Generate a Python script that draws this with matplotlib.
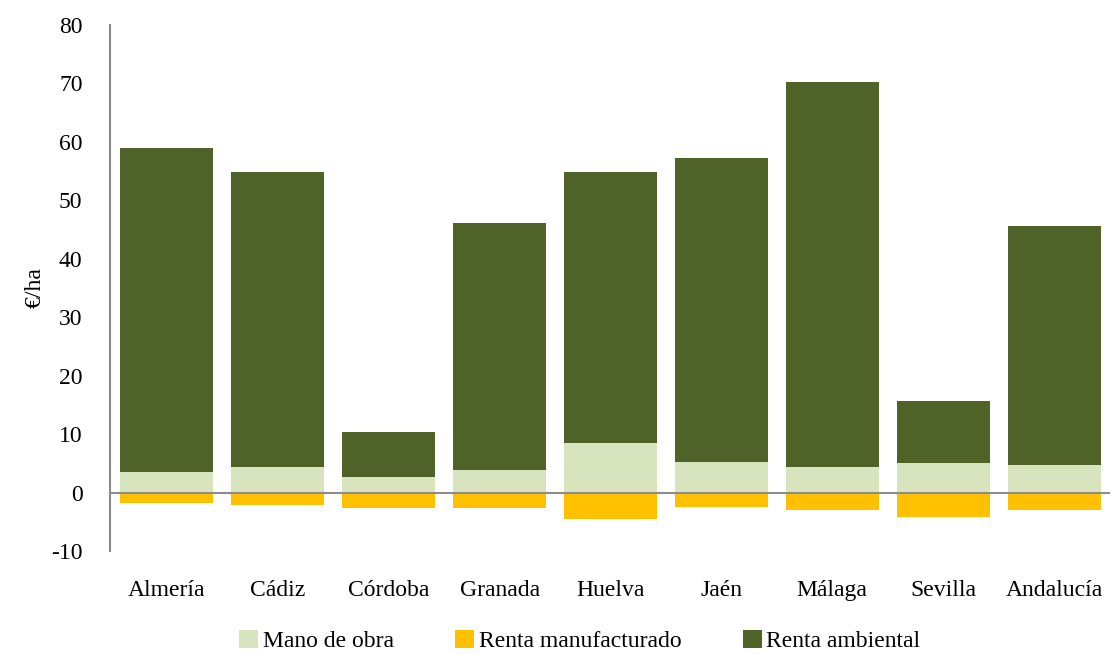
import matplotlib
matplotlib.use("Agg")
from matplotlib import pyplot as plt
import numpy as np

provincias = ['Almería', 'Cádiz', 'Córdoba', 'Granada', 'Huelva', 'Jaén', 'Málaga', 'Sevilla', 'Andalucía']
mano_de_obra = [3.5, 4.4, 2.7, 3.8, 8.5, 5.2, 4.4, 5.1, 4.7]
renta_manufacturado = [-1.8, -2.1, -2.7, -2.7, -4.6, -2.4, -3.0, -4.1, -3.0]
total = [59.0, 54.8, 10.4, 46.1, 54.8, 57.3, 70.3, 15.7, 45.6]
renta_ambiental = [t - m for t, m in zip(total, mano_de_obra)]

plt.rcParams['font.family'] = ['Liberation Serif', 'DejaVu Serif']
plt.rcParams['axes.unicode_minus'] = False

fig = plt.figure(figsize=(11.14, 6.54), dpi=100)
ax = fig.add_axes([0.099, 0.1575, 0.897, 0.8045])

x = np.arange(len(provincias))
ancho = 0.84
ax.bar(x, mano_de_obra, ancho, color='#D7E4BD', label='Mano de obra', zorder=2)
ax.bar(x, renta_manufacturado, ancho, color='#FFC000', label='Renta manufacturado', zorder=2)
ax.bar(x, renta_ambiental, ancho, bottom=mano_de_obra, color='#4F6228', label='Renta ambiental', zorder=2)

ax.axhline(0, color='#8c8c8c', linewidth=1.5, zorder=3)
ax.set_xlim(-0.51, 8.5)
ax.set_ylim(-10, 80)
ax.set_yticks(range(-10, 81, 10))
ax.set_xticks(x)
ax.set_xticklabels(provincias)
ax.tick_params(axis='y', length=0, pad=20, labelsize=17)
ax.tick_params(axis='x', length=0, pad=21, labelsize=17)

for s in ['top', 'right', 'bottom']:
    ax.spines[s].set_visible(False)
ax.spines['left'].set_color('#8c8c8c')
ax.spines['left'].set_linewidth(1.5)

ax.set_ylabel('€/ha', fontsize=17, labelpad=4)

ax.legend(loc='upper center', bbox_to_anchor=(0.47, -0.11), ncol=3, frameon=False,
          fontsize=17, handlelength=0.8, handleheight=0.8, handletextpad=0.2, columnspacing=2.6)

fig.savefig('out.png', dpi=100)
